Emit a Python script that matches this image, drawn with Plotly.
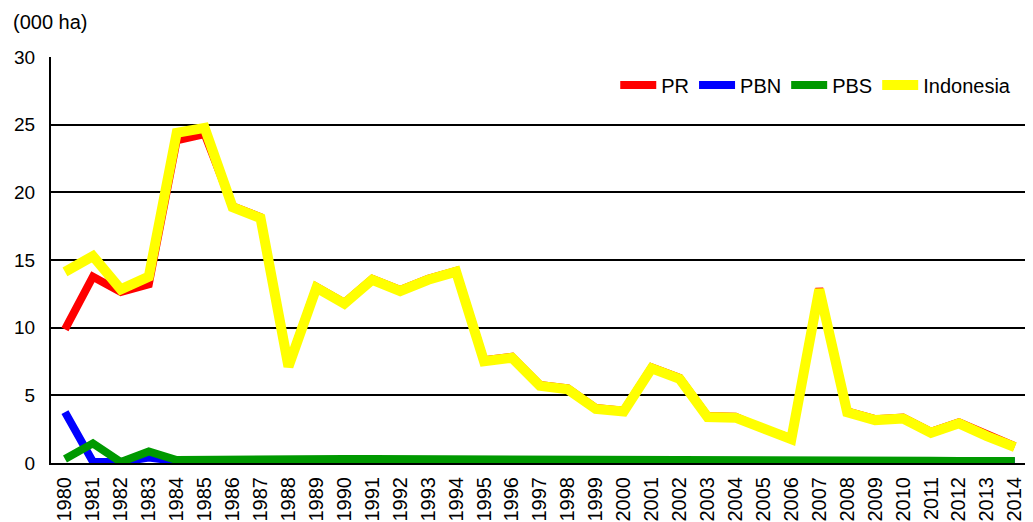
import plotly.graph_objects as go

years = list(range(1980, 2015))

pr = [9.87, 13.77, 12.64, 13.2, 23.85, 24.3, 18.97, 18.17, 7.2, 13.02,
      11.84, 13.61, 12.78, 13.61, 14.2, 7.59, 7.85, 5.77, 5.51, 4.06,
      3.87, 7.07, 6.29, 3.47, 3.42, 2.53, 1.83, 12.9, 3.82, 3.24,
      3.35, 2.3, 3.0, 2.06, 1.24]

pbn = [3.76, 0.1, 0.08, 0.4, 0.15, 0.15, 0.18, 0.2, 0.2, 0.2,
       0.2, 0.2, 0.2, 0.2, 0.2, 0.18, 0.18, 0.18, 0.17, 0.17,
       0.17, 0.16, 0.16, 0.15, 0.15, 0.15, 0.15, 0.15, 0.14, 0.14,
       0.13, 0.13, 0.12, 0.12, 0.12]

pbs = [0.3, 1.45, 0.07, 0.85, 0.22, 0.25, 0.3, 0.33, 0.33, 0.32,
       0.3, 0.3, 0.3, 0.3, 0.3, 0.28, 0.28, 0.27, 0.26, 0.25,
       0.25, 0.22, 0.22, 0.2, 0.2, 0.2, 0.2, 0.2, 0.18, 0.18,
       0.17, 0.16, 0.15, 0.15, 0.14]

indonesia = [14.13, 15.29, 12.83, 13.77, 24.4, 24.76, 18.9, 18.1, 7.13, 12.95,
             11.77, 13.54, 12.71, 13.54, 14.13, 7.52, 7.78, 5.7, 5.44, 3.99,
             3.8, 7.0, 6.22, 3.4, 3.35, 2.46, 1.76, 12.83, 3.75, 3.17,
             3.28, 2.23, 2.93, 1.99, 1.17]

series = [
    ("PR", pr, "#ff0000", 8),
    ("PBN", pbn, "#0000ff", 8),
    ("PBS", pbs, "#009900", 8),
    ("Indonesia", indonesia, "#ffff00", 10),
]

FONT = "Arial, Liberation Sans, sans-serif"

fig = go.Figure()
for name, vals, color, w in series:
    fig.add_trace(go.Scatter(x=years, y=vals, name=name, mode="lines",
                             line=dict(color=color, width=w)))

fig.update_layout(
    width=1025, height=514,
    margin=dict(l=43, r=7, t=49, b=59, autoexpand=False),
    paper_bgcolor="white", plot_bgcolor="white",
    font=dict(family=FONT, color="black"),
    showlegend=True,
    legend=dict(orientation="h", x=0.99, xanchor="right", y=0.931, yanchor="middle",
                itemwidth=36,
                font=dict(size=20, family=FONT, color="black"),
                bgcolor="rgba(0,0,0,0)", traceorder="normal"),
    xaxis=dict(range=[1979.5, 2014.4], tickmode="array", tickvals=years,
               ticktext=[str(y) for y in years], tickangle=-90, automargin=False,
               tickfont=dict(size=20, family=FONT, color="black"),
               showgrid=False, zeroline=False, showline=True, linecolor="black",
               linewidth=2, ticks="", ticklabelstandoff=4, layer="below traces"),
    yaxis=dict(range=[0, 30], tickvals=[0, 5, 10, 15, 20, 25, 30], automargin=False,
               tickfont=dict(size=19, family=FONT, color="black"),
               showgrid=True, gridcolor="black", gridwidth=1.5, zeroline=False,
               showline=True, linecolor="black", linewidth=2, ticks="",
               ticklabelstandoff=10, layer="below traces"),
    annotations=[dict(text="(000 ha)", xref="paper", yref="paper",
                      x=-0.041, y=1.086, xanchor="left", yanchor="middle",
                      showarrow=False, font=dict(size=20, family=FONT, color="black"))],
)

fig.write_html("out.html")
